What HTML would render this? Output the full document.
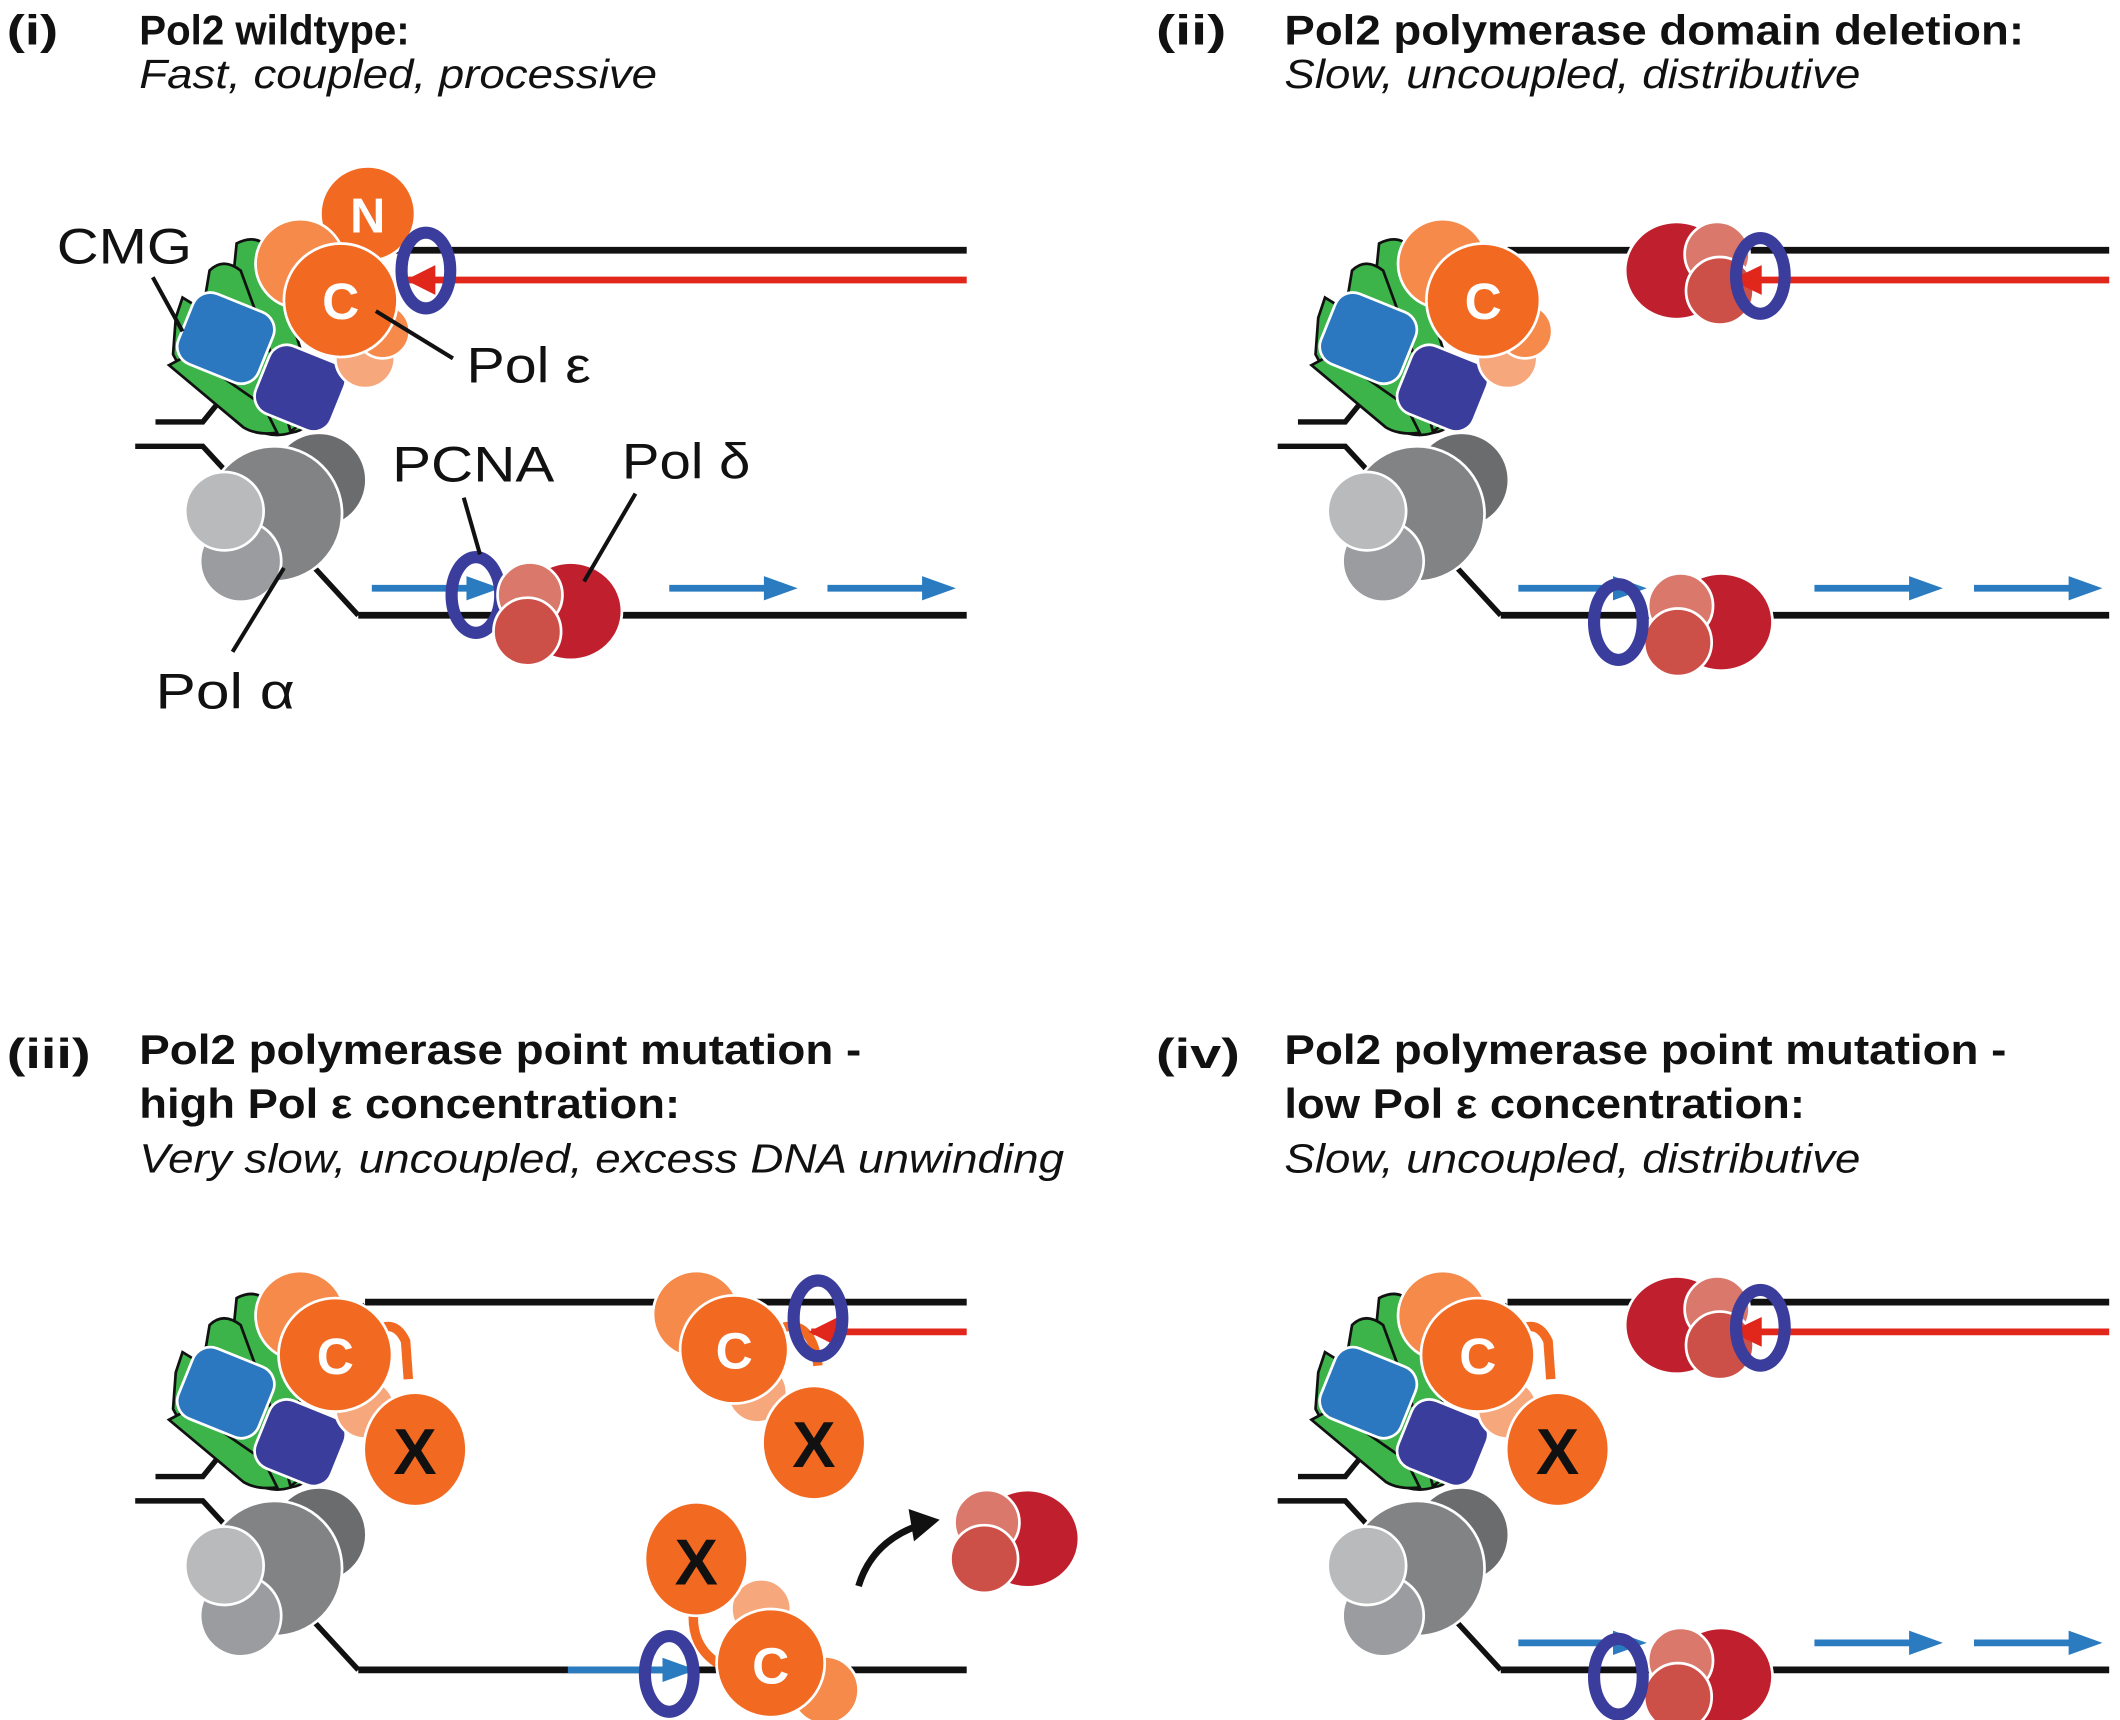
<!DOCTYPE html>
<html><head><style>html,body{margin:0;padding:0;background:#fff}svg{display:block}</style></head>
<body>
<svg width="2120" height="1720" viewBox="0 0 1568 1272" xmlns="http://www.w3.org/2000/svg" font-family="Liberation Sans, sans-serif">
<defs>
<g id="cmg">
  <polyline points="115,312 150,312 200,250 270,185" fill="none" stroke="#111" stroke-width="4"/>
  <polyline points="100,330 150,330 265,455" fill="none" stroke="#111" stroke-width="4"/>
  <g fill="#3cb44a" stroke="#111" stroke-width="2">
    <path d="M175,180 Q190,172 200,185 L235,300 Q230,318 215,320 L170,230 Z"/>
    <path d="M155,200 Q165,190 178,200 L220,315 Q210,325 195,318 L150,230 Z"/>
    <path d="M130,235 L135,220 L200,260 L215,320 Q200,325 185,315 L135,275 L128,262 Z"/>
    <path d="M125,270 L140,262 L195,300 L205,320 Q190,322 180,316 Z"/>
  </g>
  <rect x="-32" y="-28" width="64" height="56" rx="14" transform="translate(167,250) rotate(22)" fill="#2c78c0" stroke="#fff" stroke-width="2"/>
  <rect x="-30" y="-27" width="60" height="54" rx="14" transform="translate(222,287) rotate(22)" fill="#3a3d9c" stroke="#fff" stroke-width="2"/>
  <g stroke="#fff" stroke-width="2">
    <circle cx="236" cy="355" r="35" fill="#6a6c6e"/>
    <circle cx="203" cy="380" r="50" fill="#818385"/>
    <circle cx="178" cy="415" r="30" fill="#9a9c9f"/>
    <circle cx="166" cy="378" r="29" fill="#b8babc"/>
  </g>
</g>
<g id="pcnaring"><ellipse cx="0" cy="0" rx="18" ry="28" fill="none" stroke="#3a3d9c" stroke-width="9"/></g>
<g id="arrow"><line x1="0" y1="0" x2="75" y2="0" stroke="#2a7bc0" stroke-width="5"/><polygon points="70,-9 95,0 70,9" fill="#2a7bc0"/></g>
<g id="deltaR">
  <ellipse cx="30" cy="0" rx="38" ry="36" fill="#c0202e" stroke="#fff" stroke-width="2"/>
  <circle cx="0" cy="-12" r="24" fill="#d9786b" stroke="#fff" stroke-width="2"/>
  <circle cx="-2" cy="15" r="25" fill="#cd5048" stroke="#fff" stroke-width="2"/>
</g>
</defs>

<g font-size="31" font-weight="bold" fill="#111">
<text x="5" y="33" textLength="38" lengthAdjust="spacingAndGlyphs">(i)</text><text x="103" y="33" textLength="200" lengthAdjust="spacingAndGlyphs">Pol2 wildtype:</text>
<text x="855" y="33" textLength="52" lengthAdjust="spacingAndGlyphs">(ii)</text><text x="950" y="33" textLength="547" lengthAdjust="spacingAndGlyphs">Pol2 polymerase domain deletion:</text>
<text x="5" y="790" textLength="62" lengthAdjust="spacingAndGlyphs">(iii)</text><text x="103" y="787" textLength="534" lengthAdjust="spacingAndGlyphs">Pol2 polymerase point mutation -</text><text x="103" y="827" textLength="400" lengthAdjust="spacingAndGlyphs">high Pol ε concentration:</text>
<text x="855" y="790" textLength="62" lengthAdjust="spacingAndGlyphs">(iv)</text><text x="950" y="787" textLength="534" lengthAdjust="spacingAndGlyphs">Pol2 polymerase point mutation -</text><text x="950" y="827" textLength="385" lengthAdjust="spacingAndGlyphs">low Pol ε concentration:</text>
</g>
<g font-size="30" font-style="italic" fill="#111">
<text x="103" y="65" textLength="383" lengthAdjust="spacingAndGlyphs">Fast, coupled, processive</text>
<text x="950" y="65" textLength="426" lengthAdjust="spacingAndGlyphs">Slow, uncoupled, distributive</text>
<text x="103" y="867" textLength="684" lengthAdjust="spacingAndGlyphs">Very slow, uncoupled, excess DNA unwinding</text>
<text x="950" y="867" textLength="426" lengthAdjust="spacingAndGlyphs">Slow, uncoupled, distributive</text>
</g>

<!-- Panel i -->
<g>
<line x1="270" y1="185" x2="715" y2="185" stroke="#111" stroke-width="5"/>
<line x1="300" y1="207" x2="715" y2="207" stroke="#e1261c" stroke-width="5"/>
<line x1="265" y1="455" x2="715" y2="455" stroke="#111" stroke-width="5"/>
<use href="#cmg"/>
<g stroke="#fff" stroke-width="2">
<circle cx="272" cy="158" r="35" fill="#f26a22"/>
<circle cx="222" cy="195" r="33" fill="#f58a4b"/>
<circle cx="270" cy="265" r="22" fill="#f6a77c"/>
<circle cx="283" cy="245" r="20" fill="#f58a4b"/>
<circle cx="252" cy="222" r="42" fill="#f26a22"/>
</g>
<polygon points="300,207 322,196 322,218" fill="#e1261c"/>
<use href="#pcnaring" x="315" y="200"/>
<text x="272" y="172" font-size="36" font-weight="bold" fill="#fff" text-anchor="middle">N</text>
<text x="252" y="236" font-size="38" font-weight="bold" fill="#fff" text-anchor="middle">C</text>
<use href="#arrow" x="275" y="435"/>
<use href="#pcnaring" x="352" y="440"/>
<use href="#deltaR" x="392" y="452"/>
<use href="#arrow" x="495" y="435"/>
<use href="#arrow" x="612" y="435"/>
<g font-size="37" fill="#111">
<text x="42" y="195" textLength="100" lengthAdjust="spacingAndGlyphs">CMG</text>
<text x="345" y="283" textLength="92" lengthAdjust="spacingAndGlyphs">Pol ε</text>
<text x="290" y="356" textLength="120" lengthAdjust="spacingAndGlyphs">PCNA</text>
<text x="460" y="354" textLength="95" lengthAdjust="spacingAndGlyphs">Pol δ</text>
<text x="115" y="524" textLength="103" lengthAdjust="spacingAndGlyphs">Pol α</text>
</g>
<g stroke="#111" stroke-width="3">
<line x1="113" y1="205" x2="135" y2="245"/>
<line x1="278" y1="230" x2="335" y2="265"/>
<line x1="343" y1="368" x2="355" y2="410"/>
<line x1="470" y1="365" x2="432" y2="430"/>
<line x1="210" y1="420" x2="172" y2="482"/>
</g>
</g>

<!-- Panel ii -->
<g transform="translate(845,0)">
<line x1="270" y1="185" x2="715" y2="185" stroke="#111" stroke-width="5"/>
<line x1="440" y1="207" x2="715" y2="207" stroke="#e1261c" stroke-width="5"/>
<line x1="265" y1="455" x2="715" y2="455" stroke="#111" stroke-width="5"/>
<use href="#cmg"/>
<g stroke="#fff" stroke-width="2">
<circle cx="222" cy="195" r="33" fill="#f58a4b"/>
<circle cx="270" cy="265" r="22" fill="#f6a77c"/>
<circle cx="283" cy="245" r="20" fill="#f58a4b"/>
<circle cx="252" cy="222" r="42" fill="#f26a22"/>
</g>
<text x="252" y="236" font-size="38" font-weight="bold" fill="#fff" text-anchor="middle">C</text>
<g transform="translate(425,200) scale(-1,1)"><use href="#deltaR"/></g>
<polygon points="435,207 458,196 458,218" fill="#e1261c"/>
<use href="#pcnaring" x="457" y="204"/>
<use href="#arrow" x="278" y="435"/>
<use href="#deltaR" x="398" y="460"/>
<use href="#pcnaring" x="352" y="460"/>
<use href="#arrow" x="497" y="435"/>
<use href="#arrow" x="615" y="435"/>
</g>

<!-- Panel iii -->
<g transform="translate(0,780)">
<line x1="270" y1="183" x2="715" y2="183" stroke="#111" stroke-width="5"/>
<line x1="600" y1="205" x2="715" y2="205" stroke="#e1261c" stroke-width="5"/>
<line x1="265" y1="455" x2="715" y2="455" stroke="#111" stroke-width="5"/>
<use href="#cmg"/>
<g stroke="#fff" stroke-width="2">
<circle cx="222" cy="193" r="33" fill="#f58a4b"/>
<circle cx="270" cy="262" r="22" fill="#f6a77c"/>
<path d="M268,212 Q290,190 300,212 L302,240" fill="none" stroke="#f26a22" stroke-width="7"/>
<circle cx="248" cy="222" r="42" fill="#f26a22"/>
<ellipse cx="307" cy="292" rx="38" ry="42" fill="#f26a22"/>
</g>
<text x="248" y="236" font-size="38" font-weight="bold" fill="#fff" text-anchor="middle">C</text>
<text x="307" y="310" font-size="48" font-weight="bold" fill="#111" text-anchor="middle">X</text>
<g stroke="#fff" stroke-width="2">
<circle cx="515" cy="192" r="32" fill="#f58a4b"/>
<circle cx="560" cy="250" r="22" fill="#f6a77c"/>
<path d="M570,205 Q600,190 605,230" fill="none" stroke="#f26a22" stroke-width="7"/>
<circle cx="543" cy="218" r="40" fill="#f26a22"/>
<ellipse cx="602" cy="287" rx="38" ry="42" fill="#f26a22"/>
</g>
<polygon points="598,205 620,194 620,216" fill="#e1261c"/>
<use href="#pcnaring" x="605" y="195"/>
<text x="543" y="232" font-size="38" font-weight="bold" fill="#fff" text-anchor="middle">C</text>
<text x="602" y="305" font-size="48" font-weight="bold" fill="#111" text-anchor="middle">X</text>
<use href="#arrow" x="420" y="455"/>
<g stroke="#fff" stroke-width="2">
<circle cx="563" cy="410" r="22" fill="#f6a77c"/>
<circle cx="610" cy="470" r="25" fill="#f58a4b"/>
<path d="M515,400 Q505,440 540,455" fill="none" stroke="#f26a22" stroke-width="7"/>
<ellipse cx="515" cy="373" rx="38" ry="42" fill="#f26a22"/>
<circle cx="570" cy="450" r="40" fill="#f26a22"/>
</g>
<use href="#pcnaring" x="495" y="458"/>
<text x="515" y="392" font-size="48" font-weight="bold" fill="#111" text-anchor="middle">X</text>
<text x="570" y="465" font-size="38" font-weight="bold" fill="#fff" text-anchor="middle">C</text>
<path d="M635,393 Q645,360 680,348" fill="none" stroke="#111" stroke-width="5"/>
<polygon points="672,336 695,344 676,360" fill="#111"/>
<use href="#deltaR" x="730" y="358"/>
</g>

<!-- Panel iv -->
<g transform="translate(845,780)">
<line x1="270" y1="183" x2="715" y2="183" stroke="#111" stroke-width="5"/>
<line x1="440" y1="205" x2="715" y2="205" stroke="#e1261c" stroke-width="5"/>
<line x1="265" y1="455" x2="715" y2="455" stroke="#111" stroke-width="5"/>
<use href="#cmg"/>
<g stroke="#fff" stroke-width="2">
<circle cx="222" cy="193" r="33" fill="#f58a4b"/>
<circle cx="270" cy="262" r="22" fill="#f6a77c"/>
<path d="M268,212 Q290,190 300,212 L302,240" fill="none" stroke="#f26a22" stroke-width="7"/>
<circle cx="248" cy="222" r="42" fill="#f26a22"/>
<ellipse cx="307" cy="292" rx="38" ry="42" fill="#f26a22"/>
</g>
<text x="248" y="236" font-size="38" font-weight="bold" fill="#fff" text-anchor="middle">C</text>
<text x="307" y="310" font-size="48" font-weight="bold" fill="#111" text-anchor="middle">X</text>
<g transform="translate(425,200) scale(-1,1)"><use href="#deltaR"/></g>
<polygon points="435,205 458,194 458,216" fill="#e1261c"/>
<use href="#pcnaring" x="457" y="202"/>
<use href="#arrow" x="278" y="435"/>
<use href="#deltaR" x="398" y="460"/>
<use href="#pcnaring" x="352" y="460"/>
<use href="#arrow" x="497" y="435"/>
<use href="#arrow" x="615" y="435"/>
</g>
</svg>
</body></html>
